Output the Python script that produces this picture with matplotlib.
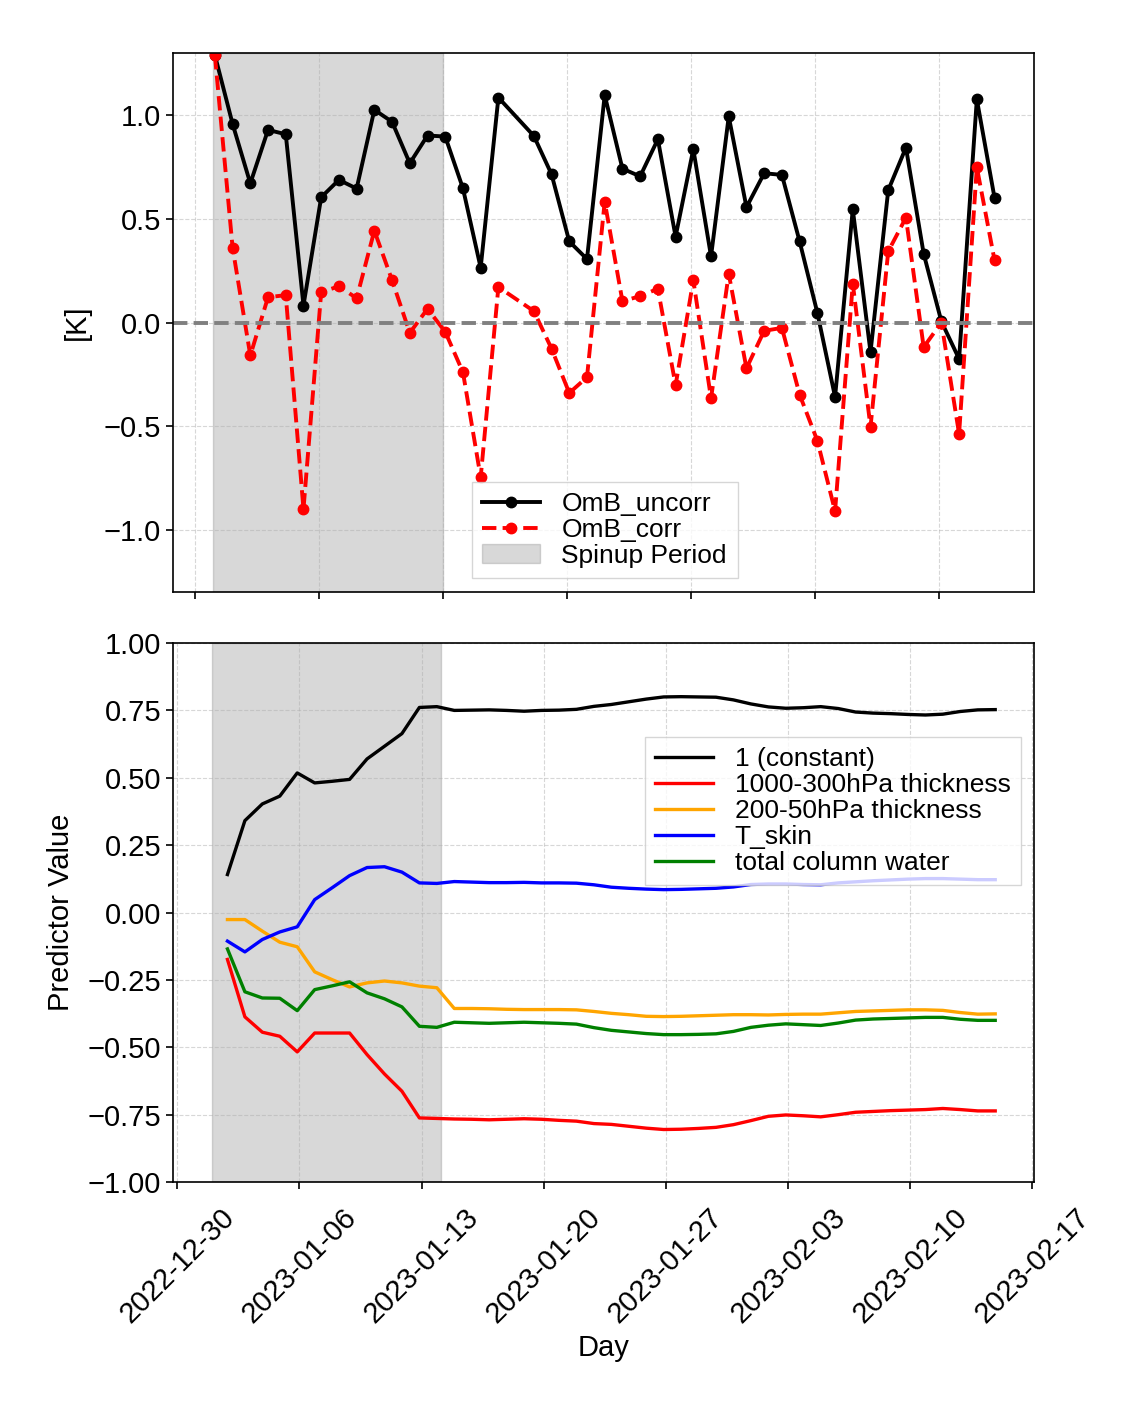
import matplotlib
matplotlib.use('Agg')
import matplotlib.pyplot as plt
import matplotlib.dates as mdates
import numpy as np
import pandas as pd

plt.rcParams['font.family'] = ['Liberation Sans', 'DejaVu Sans']
plt.rcParams['axes.linewidth'] = 1.2

# OmB (daily, 2023-01-17 missing)
omb_dates = pd.date_range('2022-12-31 03:00', '2023-02-13 03:00', freq='D')
omb_dates = omb_dates.drop(pd.Timestamp('2023-01-17 03:00'))

omb_uncorr = [1.29, 0.958, 0.671, 0.929, 0.908, 0.082, 0.604, 0.688, 0.646, 1.026,
              0.968, 0.768, 0.902, 0.897, 0.647, 0.264, 1.085, 0.900, 0.715, 0.391,
              0.306, 1.097, 0.742, 0.705, 0.884, 0.414, 0.836, 0.319, 0.994, 0.556,
              0.720, 0.712, 0.391, 0.047, -0.359, 0.546, -0.143, 0.638, 0.844, 0.332,
              0.005, -0.176, 1.077, 0.601]
omb_corr = [1.29, 0.361, -0.159, 0.122, 0.132, -0.90, 0.146, 0.175, 0.117, 0.443,
            0.204, -0.050, 0.066, -0.045, -0.24, -0.747, 0.171, 0.055, -0.126, -0.34,
            -0.264, 0.583, 0.103, 0.127, 0.163, -0.303, 0.204, -0.366, 0.235, -0.221,
            -0.040, -0.026, -0.348, -0.570, -0.91, 0.188, -0.504, 0.343, 0.506, -0.119,
            0.0, -0.538, 0.749, 0.300]

# predictor coefficients
pred_dates = pd.date_range('2023-01-01 21:00', periods=45, freq='D')

pred_const = [0.141, 0.341, 0.403, 0.432, 0.518, 0.481, 0.487, 0.494, 0.570, 0.617,
              0.664, 0.761, 0.764, 0.750, 0.751, 0.752, 0.750, 0.747, 0.750, 0.751,
              0.754, 0.765, 0.772, 0.782, 0.792, 0.800, 0.801, 0.800, 0.799, 0.789,
              0.774, 0.763, 0.758, 0.760, 0.764, 0.757, 0.744, 0.740, 0.738, 0.735,
              0.733, 0.736, 0.746, 0.752, 0.753]
pred_thick_low = [-0.174, -0.387, -0.444, -0.459, -0.517, -0.447, -0.447, -0.447, -0.527, -0.599,
                  -0.663, -0.762, -0.764, -0.766, -0.767, -0.769, -0.767, -0.765, -0.767, -0.771,
                  -0.774, -0.783, -0.786, -0.793, -0.800, -0.805, -0.804, -0.801, -0.797, -0.787,
                  -0.772, -0.756, -0.751, -0.754, -0.758, -0.750, -0.741, -0.738, -0.735, -0.733,
                  -0.731, -0.727, -0.731, -0.736, -0.736]
pred_thick_high = [-0.026, -0.026, -0.069, -0.110, -0.127, -0.220, -0.249, -0.276, -0.261, -0.254,
                   -0.261, -0.273, -0.279, -0.356, -0.356, -0.357, -0.359, -0.360, -0.360, -0.360,
                   -0.361, -0.367, -0.374, -0.379, -0.385, -0.386, -0.385, -0.383, -0.381, -0.379,
                   -0.379, -0.380, -0.378, -0.377, -0.377, -0.372, -0.367, -0.365, -0.363, -0.361,
                   -0.361, -0.363, -0.371, -0.377, -0.376]
pred_tskin = [-0.106, -0.146, -0.100, -0.072, -0.053, 0.048, 0.092, 0.137, 0.167, 0.170,
              0.150, 0.110, 0.108, 0.115, 0.113, 0.111, 0.111, 0.112, 0.110, 0.110,
              0.109, 0.103, 0.094, 0.090, 0.087, 0.085, 0.086, 0.088, 0.090, 0.095,
              0.104, 0.106, 0.106, 0.104, 0.103, 0.110, 0.114, 0.118, 0.121, 0.124,
              0.126, 0.126, 0.124, 0.122, 0.122]
pred_tcw = [-0.135, -0.294, -0.317, -0.318, -0.364, -0.286, -0.272, -0.257, -0.298, -0.320,
            -0.350, -0.422, -0.426, -0.407, -0.409, -0.411, -0.409, -0.407, -0.409, -0.411,
            -0.414, -0.427, -0.437, -0.443, -0.449, -0.453, -0.453, -0.452, -0.450, -0.441,
            -0.426, -0.418, -0.413, -0.416, -0.419, -0.410, -0.399, -0.395, -0.393, -0.391,
            -0.389, -0.389, -0.396, -0.400, -0.400]

pred_labels = ['1 (constant)', '1000-300hPa thickness', '200-50hPa thickness',
               'T_skin', 'total column water']
pred_colors = ['black', 'red', 'orange', 'blue', 'green']

tick_dates = pd.date_range('2022-12-30', '2023-02-17', freq='7D')

FS = 21
LEG_FS = 19

fig = plt.figure(figsize=(11.35, 14.17), dpi=100)
ax1 = fig.add_axes([0.1524, 0.5822, 0.7586, 0.3804])
ax2 = fig.add_axes([0.1524, 0.1658, 0.7586, 0.3804])

# --- top: OmB ---
ax1.plot(omb_dates, omb_uncorr, '-o', color='black', lw=2.8, ms=7.5, label='OmB_uncorr')
ax1.plot(omb_dates, omb_corr, '--o', color='red', lw=2.8, ms=7.5, label='OmB_corr')
ax1.axhline(0, color='gray', ls='--', lw=2.8)
ax1.axvspan(pd.Timestamp('2022-12-31'), pd.Timestamp('2023-01-13'),
            color='gray', alpha=0.3, label='Spinup Period')
ax1.set_xticks(tick_dates[:-1])
ax1.set_xlim(pd.Timestamp('2022-12-28 18:15'), pd.Timestamp('2023-02-15 08:25'))
ax1.set_ylim(-1.3, 1.3)
ax1.set_yticks([-1.0, -0.5, 0.0, 0.5, 1.0])
ax1.tick_params(axis='x', labelbottom=False)
ax1.tick_params(labelsize=FS, width=1.2, length=5)
ax1.set_ylabel('[K]', fontsize=FS, labelpad=9)
ax1.grid(True, linestyle='--', alpha=0.5)
ax1.legend(loc='upper left', bbox_to_anchor=(0.347, 0.205), borderaxespad=0,
           fontsize=LEG_FS, labelspacing=0.07, handlelength=2.2, borderpad=0.4,
           fancybox=False)

# --- bottom: predictors ---
pred_series = [pred_const, pred_thick_low, pred_thick_high, pred_tskin, pred_tcw]
for vals, lab, col in zip(pred_series, pred_labels, pred_colors):
    ax2.plot(pred_dates, vals, color=col, lw=2.4, label=lab)
ax2.axvspan(pd.Timestamp('2023-01-01'), pd.Timestamp('2023-01-14 03:00'),
            color='gray', alpha=0.3)
ax2.set_xticks(tick_dates)
ax2.set_xlim(pd.Timestamp('2022-12-29 18:05'), pd.Timestamp('2023-02-17 02:20'))
ax2.set_ylim(-1.0, 1.0)
ax2.set_yticks(np.arange(-1.0, 1.01, 0.25))
ax2.xaxis.set_major_formatter(mdates.DateFormatter('%Y-%m-%d'))
plt.setp(ax2.get_xticklabels(), rotation=45)
ax2.tick_params(labelsize=FS, width=1.2, length=5)
ax2.tick_params(axis='x', pad=10)
ax2.set_xlabel('Day', fontsize=FS)
ax2.set_ylabel('Predictor Value', fontsize=FS, labelpad=9)
ax2.grid(True, linestyle='--', alpha=0.5)
ax2.legend(loc='upper left', bbox_to_anchor=(0.548, 0.826), borderaxespad=0,
           fontsize=LEG_FS, labelspacing=0.07, handlelength=2.2, borderpad=0.4,
           fancybox=False)

fig.savefig('out.png', dpi=100)
